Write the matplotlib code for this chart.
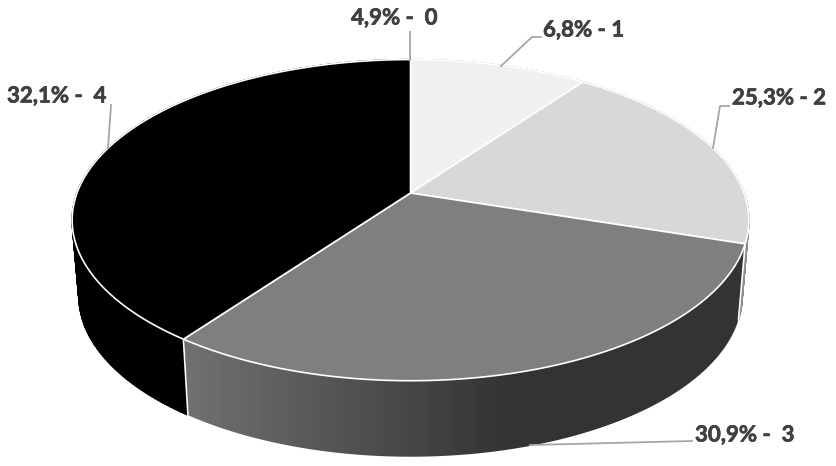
import numpy as np
import matplotlib
matplotlib.use('Agg')
import matplotlib.pyplot as plt
import matplotlib.patheffects as pe
from matplotlib.patches import Polygon
from matplotlib.collections import PolyCollection

# slice sizes (drawn) and the labels typed on them, they do not agree in the original
categories = ['0', '1', '2', '3', '4']
slice_values = [0, 10, 20, 30, 40]
label_percent = ['4,9%', '6,8%', '25,3%', '30,9%', '32,1%']
label_sep = [' -  ', ' - ', ' - ', ' -  ', ' -  ']
top_colors = ['#F0F0F0', '#F0F0F0', '#D8D8D8', '#7F7F7F', '#000000']
wall_colors = ['#B0B0B0', '#B0B0B0', '#8C8C8C', '#333333', '#000000']

label_pos = [(351, 18), (543, 30), (732, 98), (695, 435), (7, 96)]
leaders = [
    [(410, 32), (410, 60)],
    [(501, 66), (532, 37), (541, 37)],
    [(713, 148), (720, 106), (729, 106)],
    [(530, 445), (692, 441)],
    [(108, 148), (111, 105)],
]

CX, CY = 410.5, 193.0
A, B, K = 333.5, 156.0, 0.169
DEPTH, SHRINK = 76.0, 0.98


def top_xy(deg):
    # circle seen in perspective, angle clockwise from the top
    t = np.radians(deg)
    u, v = np.sin(t), np.cos(t)
    w = 1 + K * v
    return CX + A * u / w, CY - B * v / w


def low_xy(deg):
    x, y = top_xy(deg)
    return CX + (x - CX) * SHRINK, y + DEPTH


fig = plt.figure(figsize=(8.36, 4.66), dpi=100)
ax = fig.add_axes([0, 0, 1, 1])
ax.axis('off')

edges = np.cumsum([0] + slice_values) / sum(slice_values) * 360

# side walls first
for i in range(len(slice_values)):
    a0, a1 = edges[i], edges[i + 1]
    if a1 - a0 == 0:
        continue
    ts = np.linspace(a0, a1, 200)
    x1, y1 = top_xy(ts)
    x2, y2 = low_xy(ts)
    if categories[i] == '3':
        # this wall fades from grey to dark
        pts = np.column_stack([np.r_[x1, x2[::-1]], np.r_[y1, y2[::-1]]])
        poly = Polygon(pts, closed=True, fc='none', ec='none')
        ax.add_patch(poly)
        xs = np.arange(180, 760)
        grey = np.interp(xs, [190, 510], [0x70, 0x33]) / 255
        img = ax.imshow(grey[None, :], extent=(180, 760, 470, 230), cmap='gray', vmin=0, vmax=1,
                        aspect='auto', zorder=1)
        img.set_clip_path(poly)
    else:
        # small quads, so the outline between rim and base gets filled too
        quads = [[(x1[j], y1[j]), (x1[j + 1], y1[j + 1]), (x2[j + 1], y2[j + 1]), (x2[j], y2[j])]
                 for j in range(len(ts) - 1)]
        ax.add_collection(PolyCollection(quads, facecolors=wall_colors[i], edgecolors=wall_colors[i],
                                         linewidths=1.0, zorder=1))
ax.set_xlim(0, 836)
ax.set_ylim(466, 0)

# white seams on the wall
for a in [edges[3], edges[4]]:
    x1, y1 = top_xy(a)
    x2, y2 = low_xy(a)
    ax.plot([x1, x2], [y1, y2], color='white', lw=1.2, zorder=2)

# top faces
for i in range(len(slice_values)):
    a0, a1 = edges[i], edges[i + 1]
    if a1 - a0 == 0:
        continue
    ts = np.linspace(a0, a1, 200)
    x1, y1 = top_xy(ts)
    pts = np.column_stack([np.r_[CX, x1], np.r_[CY, y1]])
    ax.add_patch(Polygon(pts, closed=True, fc=top_colors[i], ec='white', lw=1.2, zorder=3,
                         joinstyle='round'))

for line in leaders:
    xs, ys = zip(*line)
    ax.plot(xs, ys, color='#A6A6A6', lw=1.3, zorder=4)

for i in range(len(categories)):
    ax.text(label_pos[i][0], label_pos[i][1], label_percent[i] + label_sep[i] + categories[i],
            family='Lato', fontweight='bold', fontsize=16, color='#404040',
            ha='left', va='center', zorder=5,
            path_effects=[pe.withStroke(linewidth=0.5, foreground='#404040')])

fig.savefig('out.png', dpi=100)
